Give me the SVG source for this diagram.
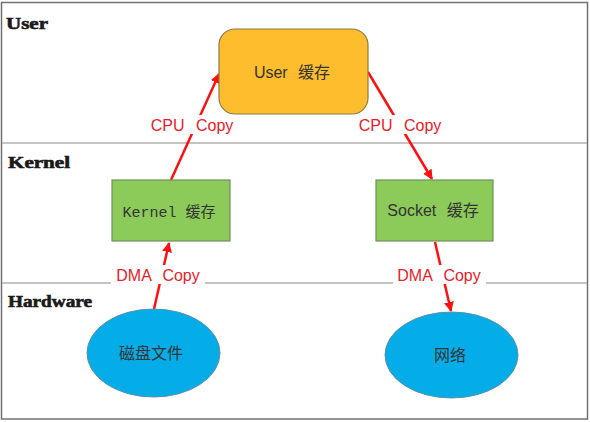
<svg xmlns="http://www.w3.org/2000/svg" width="590" height="422" viewBox="0 0 590 422">
<style>
.frame{fill:#fff;stroke:#707070;stroke-width:1.5}
.sep{stroke:#b0b0b0;stroke-width:1.5}
.layer{font-family:"Liberation Serif","Noto Sans CJK SC",serif;font-weight:bold;font-size:16px;fill:#1a1a1a;stroke:#1a1a1a;stroke-width:0.6}
.ntext{font-family:"Liberation Sans","Noto Sans CJK SC",sans-serif;font-size:16px;fill:#333;text-anchor:middle}
.mono{font-family:"Liberation Mono","Noto Sans CJK SC",monospace;font-size:15px;fill:#333;text-anchor:middle}
.green{fill:#8ccb5a;stroke:#6f8f5a;stroke-width:1.2}
.blue{fill:#05ade8;stroke:#5f8fa8;stroke-width:1}
.edge{stroke:#ff1010;stroke-width:2.5;fill:none;marker-end:url(#ah)}
.lbl{font-family:"Liberation Sans","Noto Sans CJK SC",sans-serif;font-size:16px;fill:#e8202a;text-anchor:middle;word-spacing:7px}
.lblbg{fill:#fff}
</style>
<defs>
<marker id="ah" viewBox="0 0 10 10" refX="9" refY="5" markerWidth="4" markerHeight="4" orient="auto" markerUnits="strokeWidth">
<path d="M0,0 L10,5 L0,10 z" fill="#ff1010"/>
</marker>
</defs>
<rect class="frame" x="1.5" y="2.5" width="586" height="416.5"/>
<line class="sep" x1="2" y1="143" x2="587" y2="143"/>
<line class="sep" x1="2" y1="283" x2="587" y2="283"/>
<text class="layer" x="6" y="29" textLength="42" lengthAdjust="spacingAndGlyphs">User</text>
<text class="layer" x="8" y="168" textLength="62" lengthAdjust="spacingAndGlyphs">Kernel</text>
<text class="layer" x="8" y="307" textLength="84" lengthAdjust="spacingAndGlyphs">Hardware</text>

<g id="connectors">
<line class="edge" x1="171" y1="180" x2="219" y2="74"/>
<line class="edge" x1="368" y1="72" x2="432" y2="179"/>
<line class="edge" x1="154" y1="309" x2="169" y2="243"/>
<line class="edge" x1="435" y1="242" x2="451" y2="311"/>
<rect class="lblbg" x="147" y="115" width="92" height="19"/>
<text class="lbl" x="192" y="131">CPU Copy</text>
<rect class="lblbg" x="354" y="115" width="92" height="19"/>
<text class="lbl" x="400" y="131">CPU Copy</text>
<rect class="lblbg" x="111" y="265" width="94" height="19"/>
<text class="lbl" x="158" y="281">DMA Copy</text>
<rect class="lblbg" x="393" y="265" width="93" height="19"/>
<text class="lbl" x="439" y="281">DMA Copy</text>
</g>

<g id="user-cache">
<rect x="219" y="29" width="149" height="85" rx="16" ry="16" fill="#fdbd2c" stroke="#8c7a4a" stroke-width="1.2"/>
<text class="ntext" x="292" y="78" style="word-spacing:6px">User 缓存</text>
</g>
<g id="kernel-cache">
<rect class="green" x="112" y="180" width="118" height="61"/>
<text class="mono" x="169" y="217">Kernel 缓存</text>
</g>
<g id="socket-cache">
<rect class="green" x="376" y="180" width="117" height="61"/>
<text class="ntext" x="433" y="216" style="word-spacing:6px">Socket 缓存</text>
</g>
<g id="disk-file">
<ellipse class="blue" cx="153.5" cy="353" rx="66.5" ry="44"/>
<text class="ntext" x="151" y="359">磁盘文件</text>
</g>
<g id="network">
<ellipse class="blue" cx="451.5" cy="355" rx="66.5" ry="43"/>
<text class="ntext" x="450" y="361">网络</text>
</g>
</svg>
